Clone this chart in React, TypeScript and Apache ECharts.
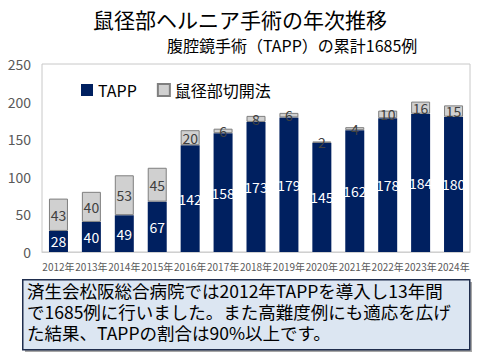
import React, { useEffect, useRef } from "react";
import * as echarts from "echarts";

const years = ["2012年","2013年","2014年","2015年","2016年","2017年","2018年","2019年","2020年","2021年","2022年","2023年","2024年"];
const tapp = [28, 40, 49, 67, 142, 158, 173, 179, 145, 162, 178, 184, 180];
const open = [43, 40, 53, 45, 20, 6, 8, 6, 2, 4, 10, 16, 15];
const seriesNames = ["TAPP", "鼠径部切開法"];
const titleText = "鼠径部ヘルニア手術の年次推移";
const subtitleText = "腹腔鏡手術（TAPP）の累計1685例";
const noteLines = [
  "済生会松阪総合病院では2012年TAPPを導入し13年間",
  "で1685例に行いました。また高難度例にも適応を広げ",
  "た結果、TAPPの割合は90%以上です。",
];

const FONT = "'Noto Sans CJK JP', 'Noto Sans', sans-serif";

export default function App() {
  const ref = useRef<HTMLDivElement>(null);
  useEffect(() => {
    if (!ref.current) return;
    const chart = echarts.init(ref.current, null, { renderer: "svg" });
    chart.setOption({
      animation: false,
      backgroundColor: "#ffffff",
      textStyle: { fontFamily: FONT },
      grid: {
        left: 42, right: 10, top: 64, bottom: 108,
        show: true, borderColor: "#c8c8c8", borderWidth: 1,
      },
      legend: {
        left: 76, top: 77,
        itemWidth: 12, itemHeight: 12, itemGap: 20,
        textStyle: { fontSize: 16, color: "#000", fontFamily: FONT },
        data: [
          { name: seriesNames[0], icon: "rect" },
          { name: seriesNames[1], icon: "rect" },
        ],
      },
      xAxis: {
        type: "category",
        data: years,
        axisLine: { lineStyle: { color: "#d0d0d0" } },
        axisTick: { show: false },
        axisLabel: { interval: 0, fontSize: 10, color: "#595959", margin: 9, fontFamily: FONT },
      },
      yAxis: {
        type: "value",
        min: 0, max: 250, interval: 50,
        splitLine: { show: false },
        axisLine: { show: false },
        axisTick: { show: false },
        axisLabel: { fontSize: 14, color: "#595959", margin: 11, fontFamily: FONT },
      },
      series: [
        {
          name: seriesNames[0],
          type: "bar",
          stack: "total",
          data: tapp,
          barWidth: 19,
          itemStyle: { color: "#002060" },
          label: { show: true, position: "inside", color: "#ffffff", fontSize: 14, fontFamily: FONT },
        },
        {
          name: seriesNames[1],
          type: "bar",
          stack: "total",
          data: open,
          barWidth: 19,
          itemStyle: { color: "#d0d0d0", borderColor: "#7f7f7f", borderWidth: 1 },
          label: { show: true, position: "inside", color: "#404040", fontSize: 14, fontFamily: FONT },
        },
      ],
      graphic: [
        {
          type: "text", left: "center", top: 8,
          style: { text: titleText, fontSize: 21, fill: "#000", fontFamily: FONT },
        },
        {
          type: "text", left: 167, top: 37,
          style: { text: subtitleText, fontSize: 16, fill: "#000", fontFamily: FONT },
        },
        {
          type: "rect", left: 25, top: 282,
          shape: { width: 447, height: 70 },
          style: { fill: "#a6a6a6" },
        },
        {
          type: "rect", left: 22, top: 279,
          shape: { width: 447, height: 70 },
          style: { fill: "#dce6f2", stroke: "#1f2d4d", lineWidth: 1.5 },
        },
        ...noteLines.map((line, i) => ({
          type: "text", left: 27, top: 282 + i * 21,
          style: { text: line, fontSize: 17.5, fill: "#000", fontFamily: FONT },
        })),
      ],
    });
    return () => chart.dispose();
  }, []);
  return <div ref={ref} style={{ width: 480, height: 360, position: "absolute", left: 0, top: 0 }} />;
}
